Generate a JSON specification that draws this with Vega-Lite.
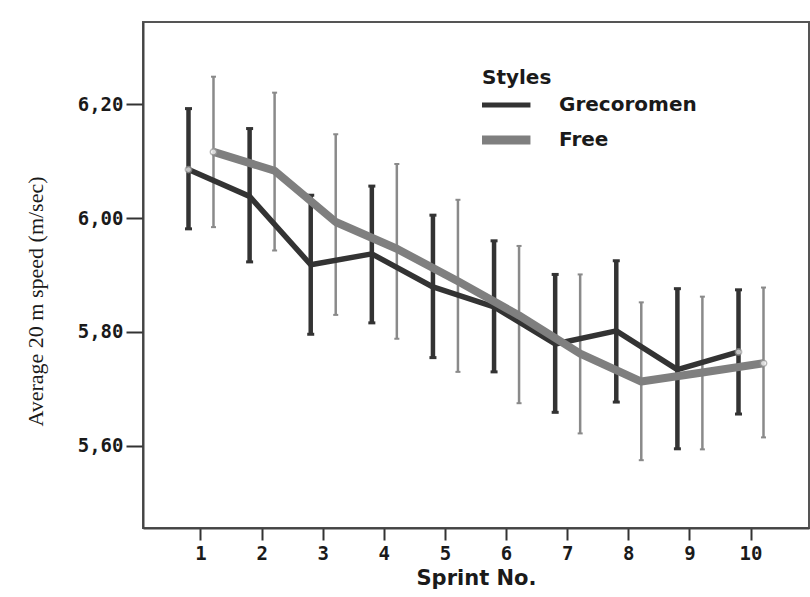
{
  "$schema": "https://vega.github.io/schema/vega-lite/v6.json",
  "width": 666,
  "height": 506,
  "autosize": "none",
  "padding": {"left": 143, "top": 22, "right": 1, "bottom": 69},
  "background": "white",
  "data": {
    "values": [
      {"sprint": 1, "style": "Grecoromen", "mean": 6.085, "lo": 5.981, "hi": 6.192},
      {"sprint": 2, "style": "Grecoromen", "mean": 6.038, "lo": 5.923, "hi": 6.157},
      {"sprint": 3, "style": "Grecoromen", "mean": 5.918, "lo": 5.796, "hi": 6.040},
      {"sprint": 4, "style": "Grecoromen", "mean": 5.937, "lo": 5.816, "hi": 6.056},
      {"sprint": 5, "style": "Grecoromen", "mean": 5.879, "lo": 5.755, "hi": 6.005},
      {"sprint": 6, "style": "Grecoromen", "mean": 5.844, "lo": 5.730, "hi": 5.960},
      {"sprint": 7, "style": "Grecoromen", "mean": 5.779, "lo": 5.659, "hi": 5.901},
      {"sprint": 8, "style": "Grecoromen", "mean": 5.802, "lo": 5.677, "hi": 5.925},
      {"sprint": 9, "style": "Grecoromen", "mean": 5.734, "lo": 5.595, "hi": 5.876},
      {"sprint": 10, "style": "Grecoromen", "mean": 5.765, "lo": 5.656, "hi": 5.874},
      {"sprint": 1, "style": "Free", "mean": 6.116, "lo": 5.984, "hi": 6.248},
      {"sprint": 2, "style": "Free", "mean": 6.083, "lo": 5.943, "hi": 6.220},
      {"sprint": 3, "style": "Free", "mean": 5.993, "lo": 5.830, "hi": 6.147},
      {"sprint": 4, "style": "Free", "mean": 5.946, "lo": 5.788, "hi": 6.095},
      {"sprint": 5, "style": "Free", "mean": 5.889, "lo": 5.730, "hi": 6.032},
      {"sprint": 6, "style": "Free", "mean": 5.829, "lo": 5.675, "hi": 5.951},
      {"sprint": 7, "style": "Free", "mean": 5.762, "lo": 5.622, "hi": 5.901},
      {"sprint": 8, "style": "Free", "mean": 5.713, "lo": 5.575, "hi": 5.852},
      {"sprint": 9, "style": "Free", "mean": 5.729, "lo": 5.594, "hi": 5.862},
      {"sprint": 10, "style": "Free", "mean": 5.745, "lo": 5.615, "hi": 5.878}
    ]
  },
  "encoding": {
    "x": {
      "field": "sprint",
      "type": "ordinal",
      "scale": {"paddingInner": 0.182, "paddingOuter": 0.54},
      "axis": {
        "title": "Sprint No.",
        "labelAngle": 0,
        "labelFont": "DejaVu Sans Mono",
        "labelFontWeight": "bold",
        "labelFontSize": 19,
        "labelColor": "#1a1a1a",
        "labelPadding": 4,
        "tickSize": 12,
        "tickWidth": 2,
        "tickColor": "#333",
        "domainColor": "#444",
        "domainWidth": 2,
        "titleFont": "DejaVu Sans",
        "titleFontWeight": "bold",
        "titleFontSize": 21,
        "titleColor": "#1a1a1a",
        "titleY": 50,
        "titleBaseline": "middle"
      }
    },
    "xOffset": {"field": "style", "type": "nominal", "scale": {"domain": ["Grecoromen", "Free"]}},
    "y": {
      "field": "mean",
      "type": "quantitative",
      "scale": {"domain": [5.456, 6.344], "nice": false, "zero": false},
      "axis": {
        "title": "Average 20 m speed (m/sec)",
        "values": [5.6, 5.8, 6.0, 6.2],
        "labelExpr": "replace(format(datum.value, '.2f'), '.', ',')",
        "labelFont": "DejaVu Sans Mono",
        "labelFontWeight": "bold",
        "labelFontSize": 19,
        "labelColor": "#1a1a1a",
        "labelPadding": 3,
        "tickSize": 17,
        "tickWidth": 2,
        "tickColor": "#333",
        "domainColor": "#444",
        "domainWidth": 2,
        "grid": false,
        "titleFont": "Liberation Serif",
        "titleFontWeight": "normal",
        "titleFontSize": 22,
        "titleColor": "#1a1a1a",
        "titleX": -108,
        "titleY": 279,
        "titleAlign": "center",
        "titleBaseline": "middle",
        "titleAngle": -90
      }
    }
  },
  "layer": [
    {
      "transform": [{"filter": "datum.style === 'Free'"}],
      "mark": {"type": "rule", "color": "#8a8a8a", "strokeWidth": 2.5},
      "encoding": {"y": {"field": "lo", "type": "quantitative"}, "y2": {"field": "hi"}}
    },
    {
      "transform": [{"filter": "datum.style === 'Free'"}],
      "mark": {"type": "tick", "color": "#8a8a8a", "size": 5, "thickness": 2, "opacity": 1},
      "encoding": {"y": {"field": "lo", "type": "quantitative"}}
    },
    {
      "transform": [{"filter": "datum.style === 'Free'"}],
      "mark": {"type": "tick", "color": "#8a8a8a", "size": 5, "thickness": 2, "opacity": 1},
      "encoding": {"y": {"field": "hi", "type": "quantitative"}}
    },
    {
      "transform": [{"filter": "datum.style === 'Grecoromen'"}],
      "mark": {"type": "rule", "color": "#333333", "strokeWidth": 4.5},
      "encoding": {"y": {"field": "lo", "type": "quantitative"}, "y2": {"field": "hi"}}
    },
    {
      "transform": [{"filter": "datum.style === 'Grecoromen'"}],
      "mark": {"type": "tick", "color": "#333333", "size": 7, "thickness": 3, "opacity": 1},
      "encoding": {"y": {"field": "lo", "type": "quantitative"}}
    },
    {
      "transform": [{"filter": "datum.style === 'Grecoromen'"}],
      "mark": {"type": "tick", "color": "#333333", "size": 7, "thickness": 3, "opacity": 1},
      "encoding": {"y": {"field": "hi", "type": "quantitative"}}
    },
    {
      "transform": [{"filter": "datum.style === 'Grecoromen'"}],
      "mark": {"type": "line", "strokeWidth": 5.5, "strokeJoin": "round"},
      "encoding": {
        "color": {
          "field": "style",
          "type": "nominal",
          "scale": {"domain": ["Grecoromen", "Free"], "range": ["#333333", "#7f7f7f"]},
          "legend": {
            "orient": "none",
            "legendX": 339,
            "legendY": 46,
            "title": "Styles",
            "titleFont": "DejaVu Sans",
            "titleFontWeight": "bold",
            "titleFontSize": 20,
            "titleColor": "#1a1a1a",
            "titlePadding": 8,
            "labelFont": "DejaVu Sans",
            "labelFontWeight": "bold",
            "labelFontSize": 20,
            "labelColor": "#1a1a1a",
            "labelOffset": 53,
            "symbolType": "stroke",
            "symbolSize": 4750,
            "symbolOffset": 4,
            "clipHeight": 18,
            "rowPadding": 15,
            "padding": 0,
            "offset": 0,
            "encode": {
              "symbols": {"update": {"strokeWidth": {"signal": "datum.value === 'Free' ? 9 : 5"}}}
            }
          }
        }
      }
    },
    {
      "transform": [{"filter": "datum.style === 'Free'"}],
      "mark": {"type": "line", "strokeWidth": 8, "strokeJoin": "round"},
      "encoding": {"color": {"field": "style", "type": "nominal"}}
    },
    {
      "transform": [{"filter": "datum.sprint === 1 || datum.sprint === 10"}],
      "mark": {"type": "point", "shape": "circle", "filled": true, "fill": "white", "stroke": "#999999", "strokeWidth": 1.5, "size": 40}
    }
  ],
  "config": {
    "view": {"stroke": "#555555", "strokeWidth": 2}
  }
}
